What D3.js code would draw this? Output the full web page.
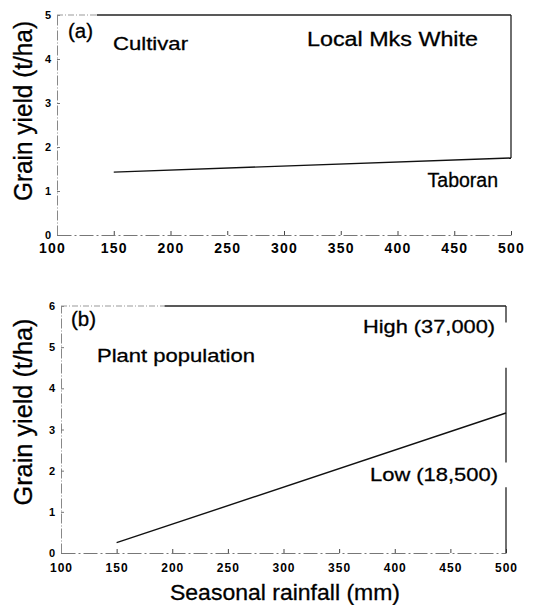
<!DOCTYPE html>
<html>
<head>
<meta charset="utf-8">
<script src="https://cdn.jsdelivr.net/npm/d3@7"></script>
<style>
  html, body { margin: 0; padding: 0; background: #fff; }
  svg { display: block; }
  text { font-family: "Liberation Sans", Arial, Helvetica, sans-serif; fill: #000; }
</style>
</head>
<body>
<svg id="chart" width="547" height="605"></svg>
<script>
// Seasonal rainfall (mm) at the ends of each fitted line
const rainfall = [150, 500];
// (a) Cultivar: fitted grain yield (t/ha) for Taboran
const taboranYield = [1.43, 1.75];
// (b) Plant population: fitted grain yield (t/ha) at low density
const lowPopYield = [0.25, 3.4];

const xTicks = [100, 150, 200, 250, 300, 350, 400, 450, 500];
const yTicksA = [0, 1, 2, 3, 4, 5];
const yTicksB = [0, 1, 2, 3, 4, 5, 6];

const svg = d3.select("#chart");
const FONT = "Liberation Sans, Arial, Helvetica, sans-serif";

function panel(cfg) {
  const x = d3.scaleLinear().domain([100, 500]).range([cfg.x0, cfg.x1]);
  const y = d3.scaleLinear().domain([0, cfg.yMax]).range([cfg.yBottom, cfg.yTop]);
  const g = svg.append("g");

  // x axis with inward ticks
  const xa = g.append("g")
    .attr("transform", `translate(0,${cfg.yBottom})`)
    .call(d3.axisBottom(x).tickValues(xTicks).tickFormat(d3.format("d"))
      .tickSize(-4).tickSizeOuter(0).tickPadding(cfg.xPad));
  xa.select(".domain").attr("stroke", "#777").attr("stroke-width", 1).attr("stroke-dasharray", "14 3 2 3");
  xa.selectAll(".tick line").attr("stroke", "#444");
  xa.selectAll(".tick text")
    .attr("font-size", cfg.xTickSize).attr("font-weight", "bold")
    .attr("letter-spacing", cfg.xTickSpacing)
    .attr("font-family", FONT).attr("fill", "#000")
    .attr("dx", d => (d === 100 ? cfg.firstTickDx : 0));

  // y axis with inward ticks
  const ya = g.append("g")
    .attr("transform", `translate(${cfg.x0},0)`)
    .call(d3.axisLeft(y).tickValues(cfg.yTicks).tickFormat(d3.format("d"))
      .tickSize(-3).tickSizeOuter(0).tickPadding(6));
  ya.select(".domain").attr("stroke", "#888").attr("stroke-width", 1).attr("stroke-dasharray", "10 2 1 2");
  ya.selectAll(".tick line").attr("stroke", "#777");
  ya.selectAll(".tick text")
    .attr("font-size", 11).attr("font-weight", "bold")
    .attr("font-family", FONT).attr("fill", "#000");

  // top and right frame edges
  g.append("line")
    .attr("x1", x(cfg.topDarkFrom)).attr("x2", x(500))
    .attr("y1", y(cfg.yMax)).attr("y2", y(cfg.yMax))
    .attr("stroke", "#222").attr("stroke-width", 1.3);
  g.append("line")
    .attr("x1", x(100)).attr("x2", x(cfg.topDarkFrom))
    .attr("y1", y(cfg.yMax)).attr("y2", y(cfg.yMax))
    .attr("stroke", "#999").attr("stroke-width", 1).attr("stroke-dasharray", "6 2 1 2");
  cfg.rightSegs.forEach(([a, b]) => {
    g.append("line")
      .attr("x1", x(500)).attr("x2", x(500))
      .attr("y1", y(a)).attr("y2", y(b))
      .attr("stroke", "#222").attr("stroke-width", 1.3);
  });

  // fitted response line
  const pts = rainfall.map((r, i) => [x(r), y(cfg.series[i])]);
  g.append("path")
    .attr("d", d3.line()(pts))
    .attr("fill", "none").attr("stroke", "#111").attr("stroke-width", 1.4);

  // y axis title
  g.append("text")
    .attr("transform", `translate(${cfg.titleX},${cfg.titleY}) rotate(-90)`)
    .attr("text-anchor", "middle")
    .attr("font-size", 26)
    .attr("textLength", cfg.titleLen).attr("lengthAdjust", "spacingAndGlyphs")
    .attr("stroke", "#000").attr("stroke-width", 0.3)
    .text("Grain yield (t/ha)");

  cfg.labels.forEach(l => {
    const t = g.append("text")
      .attr("x", l.x).attr("y", l.y)
      .attr("font-size", l.size)
      .attr("stroke", "#000").attr("stroke-width", 0.3)
      .attr("text-anchor", l.anchor || "start")
      .text(l.t);
    if (l.len) t.attr("textLength", l.len).attr("lengthAdjust", "spacingAndGlyphs");
  });
  return { x, y };
}

panel({
  x0: 57, x1: 511, yBottom: 235, yTop: 15, yMax: 5, yTicks: yTicksA,
  xPad: 8, xTickSize: 14, xTickSpacing: 1.2, firstTickDx: -5,
  series: taboranYield, topDarkFrom: 135, rightSegs: [[5, 1.75]],
  titleX: 32, titleY: 111, titleLen: 180,
  labels: [
    { t: "(a)", x: 68, y: 38, size: 20, len: 25 },
    { t: "Cultivar", x: 113, y: 50, size: 19, len: 75 },
    { t: "Local Mks  White", x: 307, y: 46, size: 20, len: 171 },
    { t: "Taboran", x: 498, y: 187, size: 19.5, anchor: "end" }
  ]
});

panel({
  x0: 61, x1: 506, yBottom: 553, yTop: 306, yMax: 6, yTicks: yTicksB,
  xPad: 10, xTickSize: 12, xTickSpacing: 1, firstTickDx: 0,
  series: lowPopYield, topDarkFrom: 193, rightSegs: [[6, 5.6], [4.5, 2.2], [1.6, 0]],
  titleX: 32, titleY: 412, titleLen: 187,
  labels: [
    { t: "(b)", x: 71, y: 326, size: 20, len: 25 },
    { t: "Plant population", x: 97, y: 362, size: 19, len: 158 },
    { t: "High (37,000)", x: 363, y: 333, size: 19, len: 132 },
    { t: "Low (18,500)", x: 370, y: 481, size: 19, len: 128 }
  ]
});

svg.append("text")
  .attr("x", 285).attr("y", 600)
  .attr("text-anchor", "middle")
  .attr("font-size", 22)
  .attr("textLength", 230).attr("lengthAdjust", "spacingAndGlyphs")
  .attr("stroke", "#000").attr("stroke-width", 0.3)
  .text("Seasonal rainfall (mm)");
</script>
</body>
</html>
